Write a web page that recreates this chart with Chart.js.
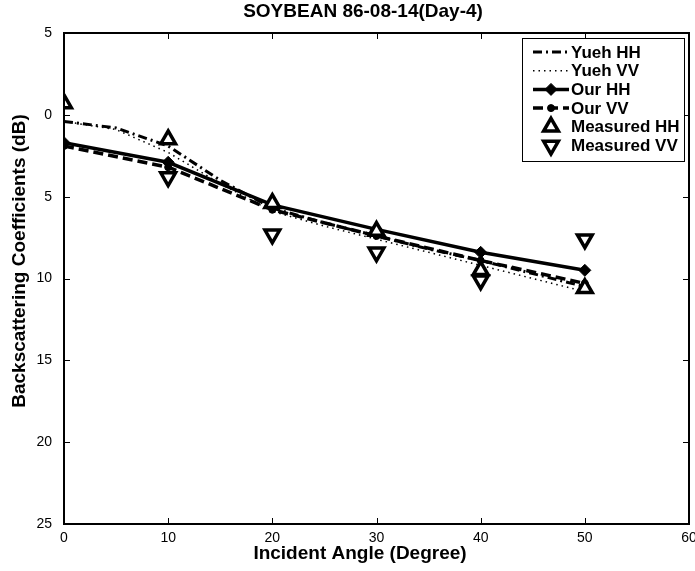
<!DOCTYPE html>
<html>
<head>
<meta charset="utf-8">
<script src="https://cdn.jsdelivr.net/npm/chart.js"></script>
<style>
body { margin: 0; background: #fff; }
#wrap { width: 695px; height: 571px; }
</style>
</head>
<body>
<div id="wrap"><canvas id="graph" width="695" height="571"></canvas></div>
<script>
// values (dB), angles in degrees
var angles = [0, 10, 20, 30, 40, 50]
var yuehAngles = [0, 5, 10, 15, 20, 25, 30, 35, 40, 45, 50]
var yuehHH = [-0.4, -0.8, -1.9, -4.0, -5.7, -6.6, -7.4, -8.2, -8.9, -9.7, -10.5]
var yuehVV = [-0.4, -0.9, -2.3, -4.2, -5.9, -6.8, -7.6, -8.4, -9.2, -10.0, -10.8]
var ourHH = [-1.7, -2.9, -5.5, -7.0, -8.4, -9.5]
var ourVV = [-1.9, -3.2, -5.8, -7.4, -8.9, -10.3]
var measHH = [0.7, -1.5, -5.4, -7.1, -9.5, -10.6]
var measVV = [null, -3.8, -7.3, -8.4, -10.1, -7.6]

var titleText = 'SOYBEAN 86-08-14(Day-4)'
var xTitle = 'Incident Angle (Degree)'
var yTitle = 'Backscattering Coefficients (dB)'

function pts(xs, ys) {
    var out = []
    for (var i = 0; i < xs.length; i++) {
        if (ys[i] !== null) out.push({x: xs[i], y: ys[i]})
    }
    return out
}

var FONT = "'Liberation Sans', Arial, Helvetica, sans-serif"

// box round the plot and inward ticks on all four sides
var frame = {
    id: 'frame',
    afterDatasetsDraw: function(chart) {
        var ctx = chart.ctx, a = chart.chartArea
        var xs = chart.scales.x, ys = chart.scales.y
        ctx.save()
        ctx.strokeStyle = '#000'
        ctx.lineWidth = 1
        xs.ticks.forEach(function(t) {
            var px = Math.round(xs.getPixelForValue(t.value)) + 0.5
            ctx.beginPath()
            ctx.moveTo(px, a.bottom); ctx.lineTo(px, a.bottom - 6)
            ctx.moveTo(px, a.top); ctx.lineTo(px, a.top + 6)
            ctx.stroke()
        })
        ys.ticks.forEach(function(t) {
            var py = Math.round(ys.getPixelForValue(t.value)) + 0.5
            ctx.beginPath()
            ctx.moveTo(a.left, py); ctx.lineTo(a.left + 6, py)
            ctx.moveTo(a.right, py); ctx.lineTo(a.right - 6, py)
            ctx.stroke()
        })
        ctx.lineWidth = 2
        ctx.strokeRect(a.left, a.top, a.right - a.left, a.bottom - a.top)
        ctx.restore()
    }
}

// title and axis titles, placed like the matlab figure
var titles = {
    id: 'titles',
    afterDraw: function(chart) {
        var ctx = chart.ctx, a = chart.chartArea
        ctx.save()
        ctx.fillStyle = '#000'
        ctx.font = 'bold 19px ' + FONT
        ctx.textAlign = 'center'
        ctx.textBaseline = 'middle'
        ctx.fillText(titleText, a.left + 299, 12)
        ctx.fillText(xTitle, a.left + 296, 554)
        ctx.translate(20, a.top + 228)
        ctx.rotate(-Math.PI / 2)
        ctx.fillText(yTitle, 0, 0)
        ctx.restore()
    }
}

// matlab style legend box in the upper right corner
var legendBox = {
    id: 'legendBox',
    afterDraw: function(chart) {
        var ctx = chart.ctx, a = chart.chartArea
        var x0 = a.right - 167, y0 = a.top + 5, w = 162, h = 123
        ctx.save()
        ctx.fillStyle = '#fff'
        ctx.fillRect(x0, y0, w, h)
        ctx.strokeStyle = '#000'
        ctx.lineWidth = 1
        ctx.strokeRect(x0 + 0.5, y0 + 0.5, w, h)
        chart.data.datasets.forEach(function(ds, i) {
            var y = y0 + 14 + i * 18.7
            ctx.strokeStyle = '#000'
            if (ds.showLine !== false) {
                ctx.setLineDash(ds.borderDash || [])
                ctx.lineWidth = ds.borderWidth
                ctx.beginPath()
                ctx.moveTo(x0 + 11, y)
                ctx.lineTo(x0 + 47, y)
                ctx.stroke()
                ctx.setLineDash([])
            }
            if (ds.pointRadius > 0 && Chart.helpers && Chart.helpers.drawPoint) {
                ctx.fillStyle = ds.pointBackgroundColor
                ctx.strokeStyle = '#000'
                ctx.lineWidth = ds.pointBorderWidth
                Chart.helpers.drawPoint(ctx, {
                    pointStyle: ds.pointStyle,
                    rotation: ds.pointRotation || 0,
                    radius: ds.pointRadius,
                    borderWidth: ds.pointBorderWidth
                }, x0 + 29, y)
            }
            ctx.fillStyle = '#000'
            ctx.font = 'bold 17px ' + FONT
            ctx.textBaseline = 'middle'
            ctx.textAlign = 'left'
            ctx.fillText(ds.label, x0 + 49, y + 1)
        })
        ctx.restore()
    }
}

var ctx = document.getElementById('graph').getContext('2d')

var myChart = new Chart(ctx, {
    type: 'scatter',
    data: {
        datasets: [{
            label: 'Yueh HH',
            data: pts(yuehAngles, yuehHH),
            showLine: true,
            borderColor: '#000',
            borderWidth: 3,
            borderDash: [9, 4, 2, 4],
            pointRadius: 0,
            order: 2
        }, {
            label: 'Yueh VV',
            data: pts(yuehAngles, yuehVV),
            showLine: true,
            borderColor: '#000',
            borderWidth: 1.5,
            borderDash: [1.5, 4],
            pointRadius: 0,
            order: 2
        }, {
            label: 'Our HH',
            data: pts(angles, ourHH),
            showLine: true,
            borderColor: '#000',
            borderWidth: 3.5,
            pointStyle: 'rectRot',
            pointRadius: 6,
            pointBackgroundColor: '#000',
            pointBorderColor: '#000',
            pointBorderWidth: 1,
            order: 1
        }, {
            label: 'Our VV',
            data: pts(angles, ourVV),
            showLine: true,
            borderColor: '#000',
            borderWidth: 3.5,
            borderDash: [10, 5],
            pointStyle: 'circle',
            pointRadius: 3.5,
            pointBackgroundColor: '#000',
            pointBorderColor: '#000',
            pointBorderWidth: 1,
            order: 1
        }, {
            label: 'Measured HH',
            data: pts(angles, measHH),
            showLine: false,
            pointStyle: 'triangle',
            pointRadius: 8.5,
            pointBackgroundColor: '#fff',
            pointBorderColor: '#000',
            pointBorderWidth: 3.5,
            order: 0
        }, {
            label: 'Measured VV',
            data: pts(angles, measVV),
            showLine: false,
            pointStyle: 'triangle',
            pointRotation: 180,
            pointRadius: 8.5,
            pointBackgroundColor: '#fff',
            pointBorderColor: '#000',
            pointBorderWidth: 3.5,
            order: 0
        }]
    },
    options: {
        responsive: false,
        animation: false,
        layout: {
            autoPadding: false,
            padding: {left: 0, right: 6, top: 33, bottom: 0}
        },
        plugins: {
            title: {display: false},
            legend: {display: false},
            tooltip: {enabled: false}
        },
        scales: {
            x: {
                type: 'linear',
                min: 0,
                max: 60,
                grid: {display: false, drawTicks: false},
                border: {display: false},
                ticks: {
                    stepSize: 10,
                    color: '#000',
                    padding: 6,
                    maxRotation: 0,
                    font: {family: FONT, size: 14}
                },
                afterFit: function(s) {
                    s.height = 47
                    s.paddingLeft = 0
                    s.paddingRight = 0
                }
            },
            y: {
                min: -25,
                max: 5,
                grid: {display: false, drawTicks: false},
                border: {display: false},
                ticks: {
                    stepSize: 5,
                    color: '#000',
                    padding: 12,
                    font: {family: FONT, size: 14},
                    callback: function(v) { return Math.abs(v) }
                },
                afterFit: function(s) {
                    s.width = 64
                    s.paddingTop = 0
                    s.paddingBottom = 0
                }
            }
        }
    },
    plugins: [frame, titles, legendBox]
})
</script>
</body>
</html>
